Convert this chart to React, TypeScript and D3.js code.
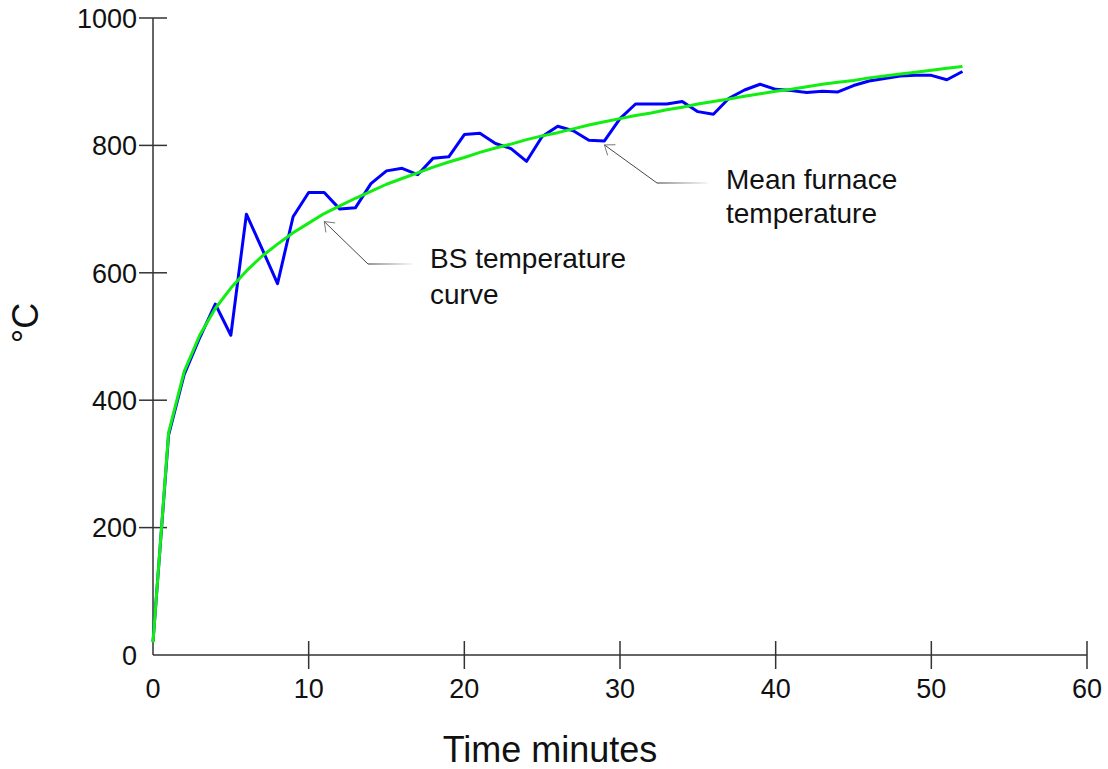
import React from "react";
import * as d3 from "d3";

const minutes: number[] = Array.from({ length: 53 }, (_, i) => i);
const furnaceTemps: number[] = [
  21, 345, 440, 498, 551, 502, 692, 638, 583, 688, 726, 726, 700, 702, 740,
  760, 764, 754, 780, 782, 817, 819, 803, 795, 775, 814, 830, 823, 808, 807,
  842, 865, 865, 865, 869, 853, 849, 874, 887, 896, 888, 886, 883, 885, 884,
  894, 901, 905, 909, 910, 910, 903, 916,
];
const bsTemps: number[] = [
  20, 349, 445, 502, 544, 576, 603, 626, 645, 663, 678, 693, 705, 717, 728,
  739, 748, 757, 766, 774, 781, 789, 796, 802, 809, 815, 820, 826, 832, 837,
  842, 847, 851, 856, 860, 865, 869, 873, 877, 881, 885, 888, 892, 896, 899,
  902, 906, 909, 912, 915, 918, 921, 924,
];
const xTicks: number[] = [0, 10, 20, 30, 40, 50, 60];
const yTicks: number[] = [0, 200, 400, 600, 800, 1000];

const W = 1108;
const H = 769;
const FONT = "'Liberation Sans', Arial, sans-serif";

export default function App() {
  const x = d3.scaleLinear().domain([0, 60]).range([153, 1087]);
  const y = d3.scaleLinear().domain([0, 1000]).range([655, 18]);

  const blueLine = d3
    .line<number>()
    .x((_, i) => x(minutes[i]))
    .y((d) => y(d))(furnaceTemps) as string;
  const greenLine = d3
    .line<number>()
    .x((_, i) => x(minutes[i]))
    .y((d) => y(d))(bsTemps) as string;

  const tickLen = 14;

  const leader = (tx: number, ty: number, ex: number, ey: number, hx: number, id: string) => {
    const ang = Math.atan2(ey - ty, ex - tx);
    const bl = 11;
    const spread = (37 * Math.PI) / 180;
    const b1 = [tx + bl * Math.cos(ang - spread), ty + bl * Math.sin(ang - spread)];
    const b2 = [tx + bl * Math.cos(ang + spread), ty + bl * Math.sin(ang + spread)];
    return (
      <g key={id}>
        <defs>
          <linearGradient id={id} x1="0" x2="1" y1="0" y2="0">
            <stop offset="0%" stopColor="#333" />
            <stop offset="100%" stopColor="#eee" />
          </linearGradient>
        </defs>
        <line x1={tx} y1={ty} x2={ex} y2={ey} stroke="#333" strokeWidth={0.9} />
        <rect x={ex} y={ey - 0.5} width={hx - ex} height={1} fill={`url(#${id})`} />
        <polyline
          points={`${b1[0]},${b1[1]} ${tx},${ty} ${b2[0]},${b2[1]}`}
          fill="none"
          stroke="#555"
          strokeWidth={0.8}
        />
      </g>
    );
  };

  return (
    <svg
      width={W}
      height={H}
      style={{ position: "absolute", left: 0, top: 0, background: "#fff" }}
      fontFamily={FONT}
    >
      <rect width={W} height={H} fill="#fff" />
      {/* axes */}
      <line x1={x(0)} y1={y(0)} x2={x(60)} y2={y(0)} stroke="#333" strokeWidth={1.5} />
      <line x1={x(0)} y1={y(0)} x2={x(0)} y2={y(1000)} stroke="#333" strokeWidth={1.5} />
      {xTicks.map((t) => (
        <g key={"xt" + t}>
          {t !== 0 && (
            <line
              x1={x(t)}
              x2={x(t)}
              y1={y(0) - tickLen}
              y2={y(0) + tickLen}
              stroke="#333"
              strokeWidth={1.5}
            />
          )}
          <text x={x(t)} y={698} fontSize={27} textAnchor="middle" fill="#111">
            {t}
          </text>
        </g>
      ))}
      {yTicks.map((t) => (
        <g key={"yt" + t}>
          {t !== 0 && (
            <line
              x1={x(0) - tickLen}
              x2={x(0) + tickLen}
              y1={y(t)}
              y2={y(t)}
              stroke="#333"
              strokeWidth={1.5}
            />
          )}
          <text
            x={137}
            y={y(t)}
            dy="0.36em"
            fontSize={27}
            textAnchor="end"
            fill="#111"
          >
            {t}
          </text>
        </g>
      ))}
      {/* axis titles */}
      <text x={550} y={762} fontSize={36} textAnchor="middle" fill="#111">
        Time minutes
      </text>
      <text
        transform={`translate(38, 323) rotate(-90)`}
        fontSize={36}
        textAnchor="middle"
        fill="#111"
      >
        °C
      </text>
      {/* data */}
      <path d={blueLine} fill="none" stroke="#0000ff" strokeWidth={3} strokeLinejoin="round" />
      <path d={greenLine} fill="none" stroke="#11ee11" strokeWidth={3} strokeLinejoin="round" />
      {/* annotations */}
      {leader(x(11), y(bsTemps[11]) + 8, 368, 264, 412, "g1")}
      {leader(x(29), y(furnaceTemps[29]) + 4, 657, 183, 708, "g2")}
      <text x={430} y={268} fontSize={28} fill="#111">
        BS temperature
      </text>
      <text x={430} y={304} fontSize={28} fill="#111">
        curve
      </text>
      <text x={726} y={189} fontSize={28} fill="#111">
        Mean furnace
      </text>
      <text x={726} y={223} fontSize={28} fill="#111">
        temperature
      </text>
    </svg>
  );
}
